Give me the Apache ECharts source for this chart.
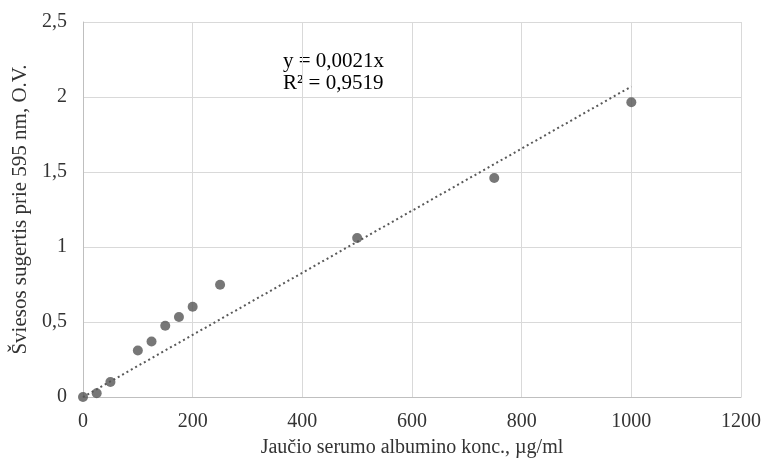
<!DOCTYPE html>
<html><head><meta charset="utf-8">
<script src="https://cdn.jsdelivr.net/npm/echarts@6/dist/echarts.min.js"></script>
<style>html,body{margin:0;padding:0;background:#fff}#c{width:763px;height:461px}</style>
</head><body><div id="c"></div>
<script>
const xValues = [0, 25, 50, 100, 125, 150, 175, 200, 250, 500, 750, 1000];
const yValues = [0, 0.025, 0.1, 0.31, 0.37, 0.475, 0.533, 0.602, 0.748, 1.06, 1.46, 1.965];
const trendX = [0, 1000];
const trendY = [0, 2.07];
const equationLines = ['y = 0,0021x', 'R² = 0,9519'];
const xTitle = 'Jaučio serumo albumino konc., µg/ml';
const yTitle = 'Šviesos sugertis prie 595 nm, O.V.';

const font = '"Liberation Serif", "Times New Roman", serif';
const chart = echarts.init(document.getElementById('c'), null, {renderer: 'canvas'});
chart.setOption({
  animation: false,
  grid: {left: 83, right: 22, top: 22, bottom: 64, containLabel: false, outerBoundsMode: 'none'},
  xAxis: {
    type: 'value', min: 0, max: 1200, interval: 200,
    name: xTitle, nameLocation: 'middle', nameGap: 41,
    nameTextStyle: {fontFamily: font, fontSize: 20, color: '#333'},
    axisLine: {show: true, lineStyle: {color: '#bfbfbf', width: 1}},
    axisTick: {show: false},
    axisLabel: {fontFamily: font, fontSize: 20, color: '#333', margin: 15,
      formatter: v => String(v)},
    splitLine: {show: true, lineStyle: {color: '#d9d9d9', width: 1}}
  },
  yAxis: {
    type: 'value', min: 0, max: 2.5, interval: 0.5,
    name: yTitle, nameLocation: 'middle', nameGap: 44, nameRotate: 90,
    nameTextStyle: {fontFamily: font, fontSize: 21, color: '#333'},
    axisLine: {show: true, lineStyle: {color: '#bfbfbf', width: 1}},
    axisTick: {show: false},
    axisLabel: {fontFamily: font, fontSize: 20, color: '#333', margin: 16,
      formatter: v => String(v).replace('.', ',')},
    splitLine: {show: true, lineStyle: {color: '#d9d9d9', width: 1}}
  },
  series: [
    {
      type: 'line', data: trendX.map((x, i) => [x, trendY[i]]),
      symbol: 'none', lineStyle: {color: '#595959', width: 2, type: [2, 3]},
      silent: true, z: 1
    },
    {
      type: 'scatter', data: xValues.map((x, i) => [x, yValues[i]]),
      symbolSize: 10, itemStyle: {color: '#555'}, z: 3
    }
  ],
  graphic: [{
    type: 'text', left: 283, top: 50,
    style: {text: equationLines.join('\n'), font: '21px ' + font, fill: '#000', lineHeight: 22}
  }]
});
</script></body></html>
